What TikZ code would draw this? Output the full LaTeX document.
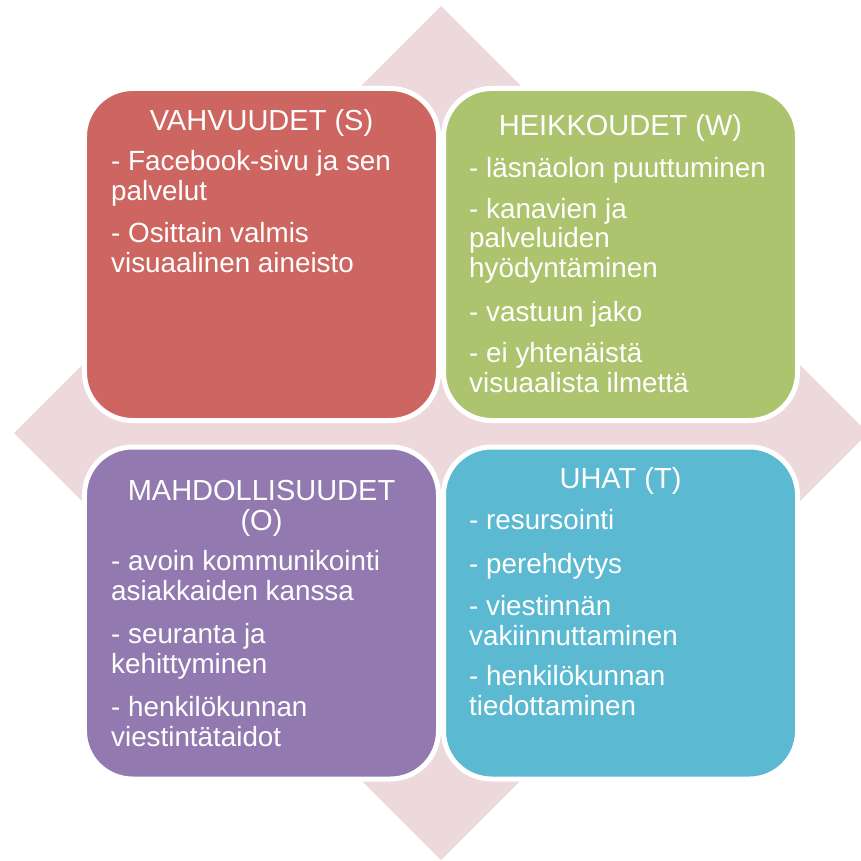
\documentclass[tikz,border=0pt]{standalone}
\usepackage{fontspec}
\setmainfont{Liberation Sans}
\definecolor{cS}{HTML}{CD6660}
\definecolor{cW}{HTML}{ABC46D}
\definecolor{cO}{HTML}{927AB0}
\definecolor{cT}{HTML}{5BB9D1}
\definecolor{cBg}{HTML}{EDD9DB}
\begin{document}
\begin{tikzpicture}[x=1bp,y=-1bp,
  quad/.style={draw=white,line width=5bp,rounded corners=48bp,minimum width=354bp,minimum height=332bp,inner sep=0pt},
  ttl/.style={text=white,inner sep=0pt,anchor=base,align=center,font=\fontsize{29bp}{30bp}\selectfont},
  itm/.style={text=white,inner sep=0pt,anchor=base west,align=left,font=\fontsize{27.8bp}{29.5bp}\selectfont}]
\useasboundingbox (0,0) rectangle (861,861);
\fill[cBg] (441,6) -- (868,433) -- (441,860) -- (14,433) -- cycle;
% quadrants
\node[quad,fill=cS] (qS) at (261.5,254.5) {};
\node[quad,fill=cW] (qW) at (620.5,254.5) {};
\node[quad,fill=cO] (qO) at (261.5,613) {};
\node[quad,fill=cT] (qT) at (620.5,613) {};
% S (anchors at the baseline of the last line)
\node[ttl] (tS) at (261.5,130) {VAHVUUDET (S)};
\node[itm] (s1) at (111,200) {- Facebook-sivu ja sen\\palvelut};
\node[itm] (s2) at (111,272) {- Osittain valmis\\visuaalinen aineisto};
% W
\node[ttl] (tW) at (620.5,135) {HEIKKOUDET (W)};
\node[itm] (w1) at (469,177) {- läsnäolon puuttuminen};
\node[itm] (w2) at (469,277) {- kanavien ja\\palveluiden\\hyödyntäminen};
\node[itm] (w3) at (469,321) {- vastuun jako};
\node[itm] (w4) at (469,392) {- ei yhtenäistä\\visuaalista ilmettä};
% O
\node[ttl] (tO) at (261.5,530) {MAHDOLLISUUDET\\(O)};
\node[itm] (o1) at (111,600) {- avoin kommunikointi\\asiakkaiden kanssa};
\node[itm] (o2) at (111,673) {- seuranta ja\\kehittyminen};
\node[itm] (o3) at (111,746) {- henkilökunnan\\viestintätaidot};
% T
\node[ttl] (tT) at (620.5,488) {UHAT (T)};
\node[itm] (t1) at (469,529) {- resursointi};
\node[itm] (t2) at (469,573) {- perehdytys};
\node[itm] (t3) at (469,645) {- viestinnän\\vakiinnuttaminen};
\node[itm] (t4) at (469,715) {- henkilökunnan\\tiedottaminen};
\end{tikzpicture}
\end{document}
